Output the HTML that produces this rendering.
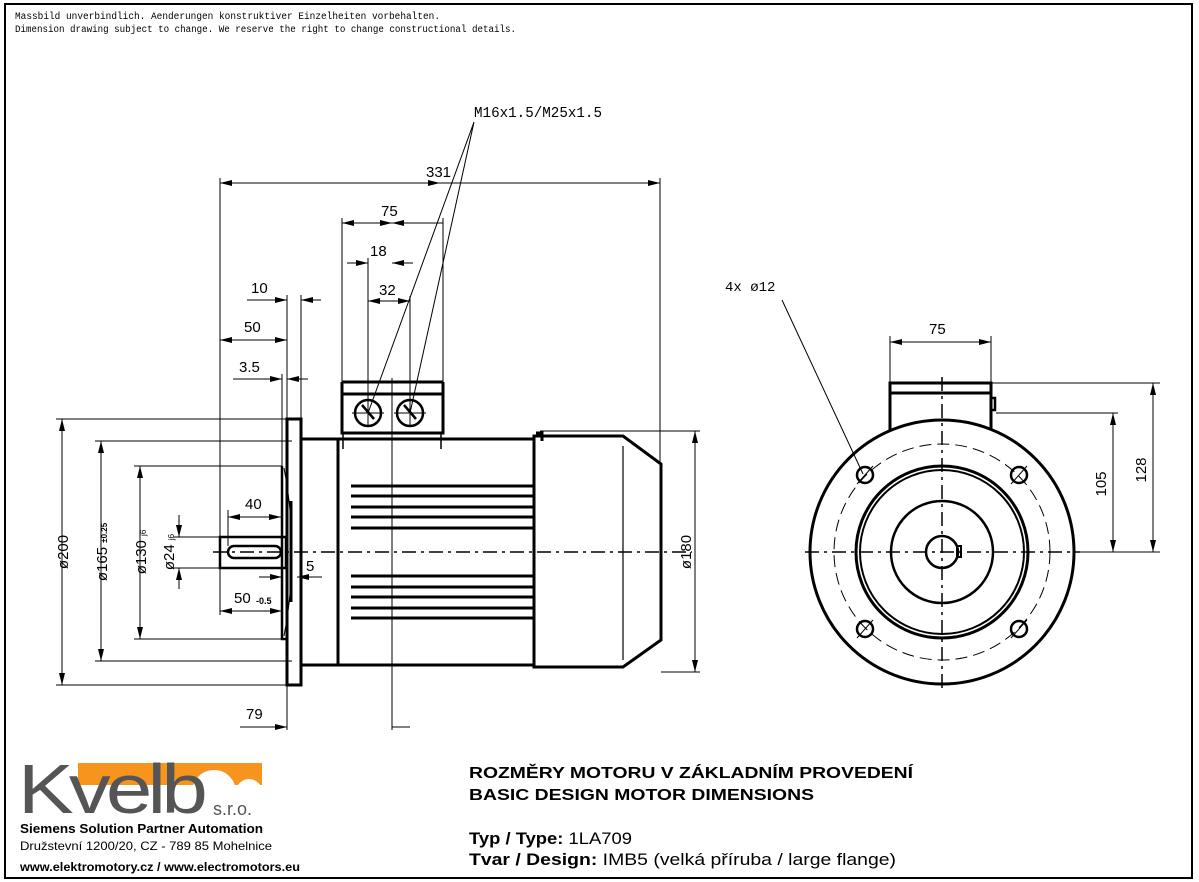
<!DOCTYPE html>
<html><head><meta charset="utf-8"><style>
html,body{margin:0;padding:0;background:#fff}
svg{display:block}
.t{font-size:15px;fill:#000}
</style></head><body>
<svg width="1199" height="882" viewBox="0 0 1199 882" xmlns="http://www.w3.org/2000/svg" font-family="Liberation Sans,sans-serif">
<defs>
<marker id="a" viewBox="0 0 12 6" refX="12" refY="3" markerWidth="12" markerHeight="6" orient="auto-start-reverse" markerUnits="userSpaceOnUse"><path d="M0,0L12,3L0,6z" fill="#000"/></marker>
</defs>
<rect x="5" y="4" width="1187" height="874" fill="none" stroke="#000" stroke-width="2"/>
<text x="15" y="19" style="font-family:'Liberation Mono',monospace" font-size="10" textLength="425" lengthAdjust="spacingAndGlyphs">Massbild unverbindlich. Aenderungen konstruktiver Einzelheiten vorbehalten.</text>
<text x="15" y="32" style="font-family:'Liberation Mono',monospace" font-size="10" textLength="501" lengthAdjust="spacingAndGlyphs">Dimension drawing subject to change. We reserve the right to change constructional details.</text>

<g stroke="#000" fill="none">
<line x1="213" y1="552" x2="692" y2="552" stroke-width="1.5" stroke-dasharray="14,5,3,5"/>
<line x1="392" y1="378" x2="392" y2="730" stroke-width="1"/>
<rect x="220" y="537" width="66" height="31" stroke-width="2.5"/>
<rect x="228" y="546" width="53" height="12" rx="6" stroke-width="2.5"/>
<path d="M282,466V639H287" stroke-width="2.5"/>
<rect x="287" y="419" width="14" height="266" stroke-width="3"/>
<path d="M291,501V602" stroke-width="3"/>
<path d="M284,468Q300,552 284,636" stroke-width="1"/>
<path d="M301,439H534M301,665H534M338,439V666" stroke-width="3"/>
<path d="M534,436H623L661,464V640L623,667H534Z" stroke-width="3"/>
<line x1="623" y1="446" x2="623" y2="660" stroke-width="1.2"/>
<path d="M536,433h6v8" stroke-width="3"/>
<g stroke-width="3">
<line x1="351" y1="486" x2="534" y2="486"/><line x1="351" y1="496" x2="534" y2="496"/><line x1="351" y1="507" x2="534" y2="507"/><line x1="351" y1="517" x2="534" y2="517"/><line x1="351" y1="528" x2="534" y2="528"/>
<line x1="351" y1="576" x2="534" y2="576"/><line x1="351" y1="587" x2="534" y2="587"/><line x1="351" y1="597" x2="534" y2="597"/><line x1="351" y1="608" x2="534" y2="608"/><line x1="351" y1="618" x2="534" y2="618"/>
</g>
<path d="M342,382H443M342,394H443M342,382V433H443V382" stroke-width="3"/>
<path d="M343,433v16M441,433v16" stroke-width="1.5"/>
<circle cx="368" cy="413" r="13" stroke-width="2.5"/>
<circle cx="410" cy="413" r="13" stroke-width="2.5"/>
<path d="M352,413h32M368,400v26M394,413h32M410,400v26" stroke-width="1"/>
<path d="M362,405l12,14M404,405l12,14" stroke-width="2.5"/>
<path d="M474,122L368,413M474,122L410,413" stroke-width="1"/>

<g stroke-width="1">
<line x1="220" y1="178" x2="220" y2="536"/>
<line x1="660" y1="178" x2="660" y2="462"/>
<line x1="342" y1="218" x2="342" y2="382"/>
<line x1="443" y1="218" x2="443" y2="382"/>
<line x1="368" y1="258" x2="368" y2="400"/>
<line x1="410" y1="296" x2="410" y2="400"/>
<line x1="287" y1="295" x2="287" y2="730"/>
<line x1="301" y1="295" x2="301" y2="419"/>
<line x1="282" y1="374" x2="282" y2="466"/>
<line x1="228" y1="510" x2="228" y2="546"/>
<line x1="220" y1="568" x2="220" y2="615"/>
<line x1="282" y1="600" x2="282" y2="615"/>
<line x1="56" y1="419" x2="287" y2="419"/>
<line x1="56" y1="685" x2="287" y2="685"/>
<line x1="95" y1="441" x2="292" y2="441"/>
<line x1="95" y1="661" x2="292" y2="661"/>
<line x1="134" y1="466" x2="282" y2="466"/>
<line x1="134" y1="639" x2="282" y2="639"/>
<line x1="173" y1="537" x2="220" y2="537"/>
<line x1="173" y1="568" x2="220" y2="568"/>
<line x1="540" y1="431" x2="700" y2="431"/>
<line x1="661" y1="672" x2="700" y2="672"/>
</g>
<g stroke-width="1" marker-end="url(#a)">
<line x1="440" y1="183" x2="220" y2="183" marker-start="url(#a)"/>
<line x1="392" y1="223" x2="342" y2="223" marker-start="url(#a)"/>
<line x1="443" y1="223" x2="392" y2="223"/>
<line x1="347" y1="263" x2="368" y2="263"/>
<line x1="413" y1="263" x2="392" y2="263"/>
<line x1="389" y1="301" x2="368" y2="301"/>
<line x1="389" y1="301" x2="410" y2="301"/>
<line x1="247" y1="300" x2="287" y2="300"/>
<line x1="321" y1="300" x2="301" y2="300"/>
<line x1="253" y1="340" x2="220" y2="340"/>
<line x1="253" y1="340" x2="287" y2="340"/>
<line x1="233" y1="379" x2="282" y2="379"/>
<line x1="308" y1="379" x2="287" y2="379"/>
<line x1="254" y1="517" x2="228" y2="517"/>
<line x1="254" y1="517" x2="281" y2="517"/>
<line x1="250" y1="611" x2="220" y2="611"/>
<line x1="250" y1="611" x2="282" y2="611"/>
<line x1="259" y1="577" x2="282" y2="577"/>
<line x1="322" y1="577" x2="297" y2="577"/>
<line x1="240" y1="727" x2="287" y2="727"/>
<line x1="410" y1="727" x2="392" y2="727" marker-end="none"/>
<line x1="62" y1="552" x2="62" y2="419"/>
<line x1="62" y1="552" x2="62" y2="685"/>
<line x1="101" y1="552" x2="101" y2="441"/>
<line x1="101" y1="552" x2="101" y2="661"/>
<line x1="140" y1="552" x2="140" y2="466"/>
<line x1="140" y1="552" x2="140" y2="639"/>
<line x1="179" y1="515" x2="179" y2="537"/>
<line x1="179" y1="589" x2="179" y2="568"/>
<line x1="695" y1="552" x2="695" y2="431"/>
<line x1="695" y1="552" x2="695" y2="672"/>
</g>
<path d="M660,183H440" stroke-width="1" marker-end="url(#a)" transform="rotate(180 550 183)"/>

<line x1="805" y1="552" x2="1080" y2="552" stroke-width="1.5" stroke-dasharray="14,5,3,5"/>
<line x1="942" y1="377" x2="942" y2="690" stroke-width="1.5" stroke-dasharray="14,5,3,5"/>
<circle cx="942" cy="552" r="132" stroke-width="3"/>
<circle cx="942" cy="552" r="108" stroke-width="1" stroke-dasharray="12,6"/>
<circle cx="942" cy="552" r="86" stroke-width="3"/>
<circle cx="942" cy="552" r="82" stroke-width="2"/>
<circle cx="942" cy="552" r="51" stroke-width="2.5"/>
<circle cx="942" cy="552" r="16" stroke-width="2.5"/>
<rect x="957" y="546" width="4" height="11" stroke-width="2"/>
<g stroke-width="2.5">
<circle cx="865" cy="475" r="8"/><circle cx="1019" cy="475" r="8"/><circle cx="865" cy="629" r="8"/><circle cx="1019" cy="629" r="8"/>
</g>
<g stroke-width="1">
<path d="M857,484l16,-18M1011,484l16,-18M857,638l16,-18M1011,638l16,-18"/>
</g>
<path d="M890,430V383H991V430M890,393H991" stroke-width="3"/>
<path d="M991,398h4v12h-4" stroke-width="2.5"/>
<line x1="782" y1="300" x2="863" y2="474" stroke-width="1"/>
<g stroke-width="1">
<line x1="890" y1="336" x2="890" y2="383"/>
<line x1="991" y1="336" x2="991" y2="383"/>
<line x1="991" y1="383" x2="1160" y2="383"/>
<line x1="996" y1="413" x2="1118" y2="413"/>
<line x1="1074" y1="552" x2="1160" y2="552"/>
</g>
<g stroke-width="1" marker-end="url(#a)">
<line x1="940" y1="342" x2="890" y2="342"/>
<line x1="940" y1="342" x2="991" y2="342"/>
<line x1="1113" y1="480" x2="1113" y2="413"/>
<line x1="1113" y1="480" x2="1113" y2="552"/>
<line x1="1153" y1="470" x2="1153" y2="383"/>
<line x1="1153" y1="470" x2="1153" y2="552"/>
</g>
</g>

<g class="t" font-size="15">
<text x="474" y="117" style="font-family:'Liberation Mono',monospace" font-size="15" textLength="128" lengthAdjust="spacingAndGlyphs">M16x1.5/M25x1.5</text>
<text x="426" y="177">331</text>
<text x="381" y="216">75</text>
<text x="370" y="256">18</text>
<text x="379" y="295">32</text>
<text x="251" y="293">10</text>
<text x="244" y="332">50</text>
<text x="239" y="372">3.5</text>
<text x="245" y="509">40</text>
<text x="234" y="603">50</text><text x="256" y="604" font-size="9" font-weight="bold">-0.5</text>
<text x="306" y="571">5</text>
<text x="246" y="719">79</text>
<text transform="translate(68,552) rotate(-90)" text-anchor="middle">ø200</text>
<text transform="translate(107,552) rotate(-90)" text-anchor="middle">ø165 <tspan font-size="8" font-weight="bold">±0.25</tspan></text>
<text transform="translate(146,552) rotate(-90)" text-anchor="middle">ø130 <tspan font-size="8">j6</tspan></text>
<text transform="translate(174,552) rotate(-90)" text-anchor="middle">ø24 <tspan font-size="8">j6</tspan></text>
<text transform="translate(691,552) rotate(-90)" text-anchor="middle">ø180</text>
<text x="929" y="334">75</text>
<text x="725" y="291" style="font-family:'Liberation Mono',monospace" font-size="14">4x ø12</text>
<text transform="translate(1106,484) rotate(-90)" text-anchor="middle">105</text>
<text transform="translate(1146,470) rotate(-90)" text-anchor="middle">128</text>
</g>

<rect x="78" y="763" width="184" height="22" fill="#f7941d"/>
<circle cx="214" cy="792" r="22" fill="#fff"/>
<circle cx="249" cy="792" r="13" fill="#fff"/>
<text x="18" y="813" font-size="70" fill="#555" textLength="185" lengthAdjust="spacingAndGlyphs" letter-spacing="-4">Kvelb</text>
<text x="213" y="815" font-size="18" fill="#555">s.r.o.</text>
<text x="20" y="833" font-size="13" font-weight="bold" textLength="243" lengthAdjust="spacingAndGlyphs">Siemens Solution Partner Automation</text>
<text x="20" y="850" font-size="12" textLength="252" lengthAdjust="spacingAndGlyphs">Družstevní 1200/20, CZ - 789 85 Mohelnice</text>
<text x="20" y="871" font-size="12" font-weight="bold" textLength="280" lengthAdjust="spacingAndGlyphs">www.elektromotory.cz / www.electromotors.eu</text>

<text x="469" y="778" font-size="16" font-weight="bold" textLength="444" lengthAdjust="spacingAndGlyphs">ROZMĚRY MOTORU V ZÁKLADNÍM PROVEDENÍ</text>
<text x="469" y="800" font-size="16" font-weight="bold" textLength="345" lengthAdjust="spacingAndGlyphs">BASIC DESIGN MOTOR DIMENSIONS</text>
<text x="469" y="844" font-size="17" textLength="163" lengthAdjust="spacingAndGlyphs"><tspan font-weight="bold">Typ / Type:</tspan> 1LA709</text>
<text x="469" y="865" font-size="17" textLength="427" lengthAdjust="spacingAndGlyphs"><tspan font-weight="bold">Tvar / Design:</tspan> IMB5 (velká příruba / large flange)</text>
</svg>
</body></html>
